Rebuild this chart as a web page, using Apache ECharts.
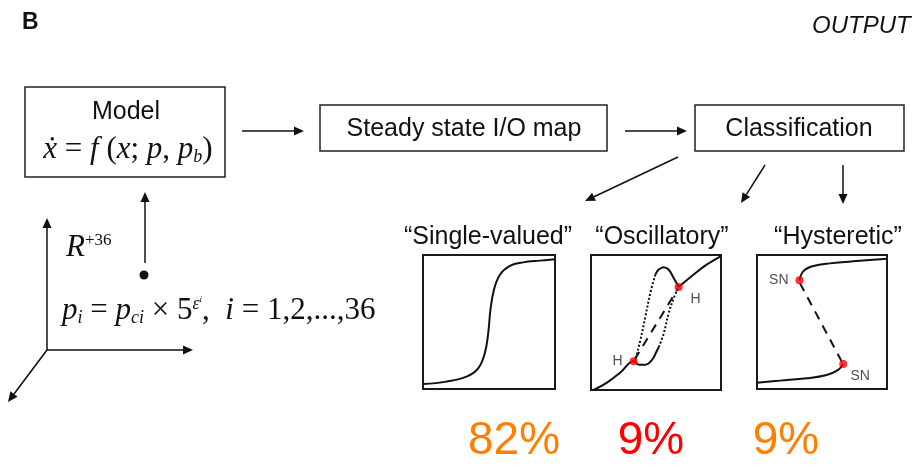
<!DOCTYPE html>
<html>
<head>
<meta charset="utf-8">
<script src="https://cdn.jsdelivr.net/npm/echarts@6/dist/echarts.min.js"></script>
<style>
  html, body { margin: 0; padding: 0; background: #fff; }
  #main { width: 914px; height: 469px; }
</style>
</head>
<body>
<div id="main"></div>
<script>
// curves, x and y normalised to 0..1
var singleCurve = [[0, 0.037], [0.177, 0.055], [0.33, 0.092], [0.418, 0.154], [0.468, 0.266],
  [0.494, 0.415], [0.511, 0.59], [0.537, 0.739], [0.582, 0.851], [0.658, 0.918],
  [0.759, 0.945], [0.886, 0.958], [1, 0.968]];

var oscLower = [[0.02, 0], [0.123, 0.055], [0.226, 0.13], [0.328, 0.2125], [0.367, 0.1875],
  [0.418, 0.1875], [0.469, 0.2225], [0.508, 0.2925], [0.521, 0.3175]];
var oscRightDotted = [[0.521, 0.3175], [0.559, 0.4175], [0.597, 0.5675], [0.636, 0.68], [0.674, 0.7625]];
var oscUpper = [[0.674, 0.7625], [0.79, 0.855], [0.892, 0.93], [1, 0.9925]];
var oscTopLoop = [[0.674, 0.7625], [0.636, 0.83], [0.597, 0.8925], [0.559, 0.91], [0.521, 0.8925], [0.495, 0.855]];
var oscLeftDotted = [[0.495, 0.855], [0.456, 0.7175], [0.418, 0.5425], [0.379, 0.3675], [0.341, 0.23], [0.328, 0.2125]];
var oscDashed = [[0.335, 0.225], [0.668, 0.75]];
var oscPoints = [[0.328, 0.2125, 'H', 'left'], [0.674, 0.7625, 'H', 'right']];

var hystUpper = [[0.327, 0.8125], [0.357, 0.88], [0.434, 0.9175], [0.561, 0.9375], [0.765, 0.955], [1, 0.9725]];
var hystLower = [[0, 0.0475], [0.179, 0.0625], [0.383, 0.08], [0.536, 0.105], [0.625, 0.1425], [0.663, 0.1875]];
var hystDashed = [[0.33, 0.79], [0.655, 0.2]];
var hystPoints = [[0.327, 0.8125, 'SN', 'left'], [0.663, 0.1875, 'SN', 'right']];

var classNames = ['\u201cSingle-valued\u201d', '\u201cOscillatory\u201d', '\u201cHysteretic\u201d'];
var shares = ['82%', '9%', '9%'];
var shareColors = ['#ff8000', '#ff0000', '#ff8000'];

var chartDom = document.getElementById('main');
var myChart = echarts.init(chartDom);

var sans = '"Liberation Sans", Arial, sans-serif';
var serif = '"Liberation Serif", "Times New Roman", serif';
var ink = '#111';

function arrow(x1, y1, x2, y2) {
  var a = Math.atan2(y2 - y1, x2 - x1);
  var len = 10, half = 4.5;
  var bx = x2 - len * Math.cos(a), by = y2 - len * Math.sin(a);
  return [
    { type: 'line', shape: { x1: x1, y1: y1, x2: bx, y2: by }, style: { stroke: ink, lineWidth: 1.5 } },
    { type: 'polygon', shape: { points: [[x2, y2],
      [bx + half * Math.sin(a), by - half * Math.cos(a)],
      [bx - half * Math.sin(a), by + half * Math.cos(a)]] }, style: { fill: ink } }
  ];
}

function txt(x, y, text, size, opts) {
  opts = opts || {};
  return {
    type: 'text', x: x, y: y,
    style: {
      text: text, fontSize: size, fontFamily: opts.family || sans,
      fontWeight: opts.weight || 'normal', fontStyle: opts.style || 'normal',
      fill: opts.color || ink, align: opts.align || 'center', verticalAlign: 'middle',
      rich: opts.rich
    }
  };
}

function box(x, y, w, h) {
  return { type: 'rect', shape: { x: x, y: y, width: w, height: h },
    style: { fill: '#fff', stroke: '#222', lineWidth: 1.5 } };
}

var mathRich = {
  i: { fontFamily: serif, fontStyle: 'italic', fontSize: 31, fill: ink },
  r: { fontFamily: serif, fontSize: 31, fill: ink },
  sub: { fontFamily: serif, fontStyle: 'italic', fontSize: 18, fill: ink, verticalAlign: 'bottom', padding: [14, 0, 0, 0] },
  sup: { fontFamily: serif, fontStyle: 'italic', fontSize: 18, fill: ink, verticalAlign: 'top', padding: [0, 0, 14, 0] },
  supsub: { fontFamily: serif, fontStyle: 'italic', fontSize: 9, fill: ink, verticalAlign: 'top', padding: [0, 0, 6, 0] },
  supr: { fontFamily: serif, fontSize: 17, fill: ink, verticalAlign: 'top', padding: [0, 0, 14, 0] }
};

var graphics = [
  txt(22, 23, 'B', 23, { weight: 'bold', align: 'left' }),
  txt(812, 26, 'OUTPUT', 24, { style: 'italic', align: 'left' }),
  box(25, 87, 200, 90),
  txt(126, 112, 'Model', 25),
  txt(128, 150, '{i|\u1e8b} {r|= }{i|f}{r| (}{i|x}{r|; }{i|p}{r|, }{i|p}{sub|b}{r|)}', 31, { rich: mathRich, family: serif }),
  box(320, 105, 287, 46),
  txt(464, 129, 'Steady state I/O map', 25),
  box(695, 105, 209, 46),
  txt(799, 129, 'Classification', 25),
  txt(66, 248, '{i|R}{supr|+36}', 31, { rich: mathRich, family: serif, align: 'left' }),
  { type: 'circle', shape: { cx: 144, cy: 275, r: 4.5 }, style: { fill: ink } },
  txt(62, 311, '{i|p}{sub|i}{r| = }{i|p}{sub|ci}{r| \u00d7 5}{sup|\u03b5}{supsub|i}{r|,  }{i|i}{r| = 1,2,...,36}', 31,
    { rich: mathRich, family: serif, align: 'left' })
];

var arrows = [
  [242, 131, 304, 131], [625, 131, 687, 131],
  [678, 157, 585, 201], [765, 165, 741, 203], [843, 165, 843, 204],
  [145, 263, 145, 192],
  [47, 350, 47, 218], [47, 350, 193, 350], [47, 350, 8, 402]
];
arrows.forEach(function (a) { graphics = graphics.concat(arrow(a[0], a[1], a[2], a[3])); });

var labelX = [488, 662, 838];
classNames.forEach(function (n, i) { graphics.push(txt(labelX[i], 237, n, 25)); });
var shareX = [514, 651, 786];
shares.forEach(function (s, i) { graphics.push(txt(shareX[i], 441, s, 46, { color: shareColors[i] })); });

var grids = [
  { left: 423, top: 255, width: 132, height: 134 },
  { left: 591, top: 255, width: 130, height: 135 },
  { left: 757, top: 255, width: 130, height: 134 }
].map(function (g) {
  return Object.assign({ show: true, borderColor: '#1a1a1a', borderWidth: 2, backgroundColor: '#fff' }, g);
});

var axisBase = { type: 'value', min: 0, max: 1, show: false };
var xAxes = [0, 1, 2].map(function (i) { return Object.assign({ gridIndex: i }, axisBase); });
var yAxes = [0, 1, 2].map(function (i) { return Object.assign({ gridIndex: i }, axisBase); });

function curve(data, idx, type, smooth) {
  return {
    type: 'line', xAxisIndex: idx, yAxisIndex: idx, data: data,
    showSymbol: false, smooth: smooth === undefined ? 0.4 : smooth, silent: true, clip: false,
    lineStyle: { color: ink, width: 2, type: type }
  };
}

function points(data, idx) {
  return {
    type: 'scatter', xAxisIndex: idx, yAxisIndex: idx, symbolSize: 8, silent: true, z: 5,
    itemStyle: { color: '#ff0000' },
    data: data.map(function (p) {
      return { value: [p[0], p[1]], label: {
        show: true, formatter: p[2], position: p[3] === 'left' ? 'left' : 'bottom',
        offset: p[3] === 'left' ? [-2, 0] : [17, -4],
        color: '#222', fontSize: 14, fontFamily: sans
      } };
    })
  };
}

var option = {
  animation: false,
  backgroundColor: '#fff',
  grid: grids,
  xAxis: xAxes,
  yAxis: yAxes,
  graphic: graphics,
  series: [
    curve(singleCurve, 0, 'solid'),
    curve(oscLower, 1, 'solid'),
    curve(oscRightDotted, 1, 'dotted'),
    curve(oscUpper, 1, 'solid'),
    curve(oscTopLoop, 1, 'solid'),
    curve(oscLeftDotted, 1, 'dotted'),
    curve(oscDashed, 1, [9, 7], 0),
    points(oscPoints, 1),
    curve(hystUpper, 2, 'solid'),
    curve(hystLower, 2, 'solid'),
    curve(hystDashed, 2, [9, 7], 0),
    points(hystPoints, 2)
  ]
};

if (chartDom && myChart) {
  myChart.setOption(option);
} else {
  console.error('Failed to initialize the chart');
}
</script>
</body>
</html>
